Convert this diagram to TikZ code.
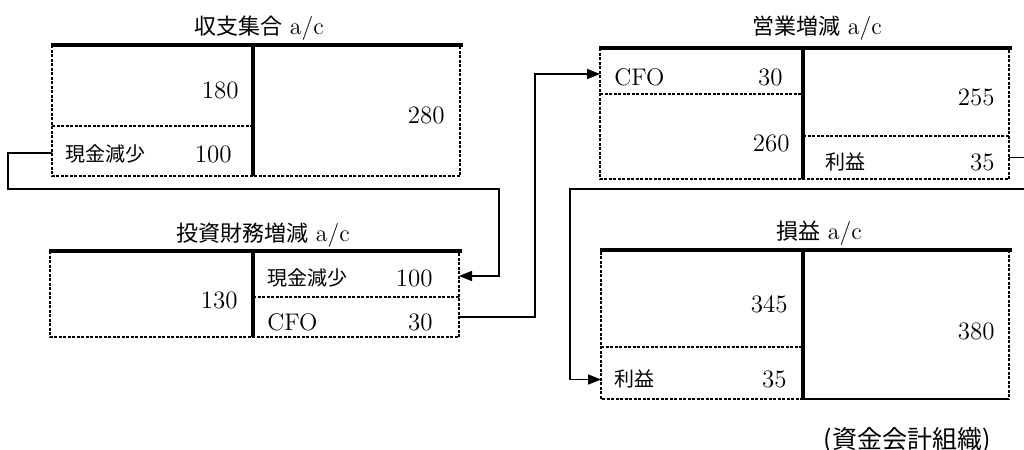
\documentclass[tikz,border=0pt]{standalone}
\usepackage{fontspec}
\newfontfamily\jp{Noto Sans CJK JP}
\usetikzlibrary{arrows.meta,fit}
\begin{document}
\begin{tikzpicture}[x=0.5pt,y=-0.5pt,
  cell/.style={inner sep=0pt,outer sep=0pt,draw=none},
  brd/.style={line width=0.55pt,dash pattern=on 1.5pt off 0.75pt},
  thk/.style={line width=2pt},
  divl/.style={line width=2pt},
  conn/.style={line width=0.8pt},
  arr/.style={conn,-{Triangle[length=6.5pt,width=5pt]}},
  ttl/.style={font=\fontsize{12}{14}\selectfont,inner sep=0pt},
  num/.style={font=\fontsize{12.5}{14}\selectfont,anchor=east,inner sep=0pt},
  lab/.style={font=\jp\fontsize{10}{12}\selectfont,anchor=west,inner sep=0pt},
  latlab/.style={font=\fontsize{12}{14}\selectfont,anchor=west,inner sep=0pt}]
\useasboundingbox (0,0) rectangle (1024,450);

% ---------- 収支集合 a/c ----------
\node[cell,fit={(52,45)(253,126)}] (A1) {};
\node[cell,fit={(52,126)(253,176)}] (A2) {};
\node[cell,fit={(253,45)(460,176)}] (A3) {};
\draw[brd] (52,45) rectangle (460,176);
\draw[brd] (52,126) -- (253,126);
\draw[thk] (51,45) -- (463,45);
\draw[divl] (253,45) -- (253,176);
\node[ttl] (At) at (259,28) {{\jp\fontsize{11}{13}\selectfont 収支集合} a/c};
\node[num] (An1) at (239,90) {180};
\node[num] (An2) at (445,115) {280};
\node[lab] (Al) at (65,154) {現金減少};
\node[num] (An3) at (232,154) {100};

% ---------- 投資財務増減 a/c ----------
\node[cell,fit={(50,251)(253,337)}] (B1) {};
\node[cell,fit={(253,251)(459,297)}] (B2) {};
\node[cell,fit={(253,297)(459,337)}] (B3) {};
\draw[brd] (50,251) rectangle (459,337);
\draw[brd] (253,297) -- (459,297);
\draw[thk] (49,251) -- (462,251);
\draw[divl] (253,251) -- (253,337);
\node[ttl] (Bt) at (263,235) {{\jp\fontsize{11}{13}\selectfont 投資財務増減} a/c};
\node[num] (Bn1) at (238,300) {130};
\node[lab] (Bl1) at (267,278) {現金減少};
\node[num] (Bn2) at (433,278) {100};
\node[latlab] (Bl2) at (267,322) {CFO};
\node[num] (Bn3) at (433,322) {30};

% ---------- 営業増減 a/c ----------
\node[cell,fit={(600,48)(803,94)}] (C1) {};
\node[cell,fit={(600,94)(803,179)}] (C2) {};
\node[cell,fit={(803,48)(1009,136)}] (C3) {};
\node[cell,fit={(803,136)(1009,179)}] (C4) {};
\draw[brd] (600,48) rectangle (1009,179);
\draw[brd] (600,94) -- (803,94);
\draw[brd] (803,136) -- (1009,136);
\draw[thk] (599,48) -- (1012,48);
\draw[divl] (803,48) -- (803,179);
\node[ttl] (Ct) at (817,28) {{\jp\fontsize{11}{13}\selectfont 営業増減} a/c};
\node[latlab] (Cl1) at (614,77) {CFO};
\node[num] (Cn1) at (783,77) {30};
\node[num] (Cn2) at (790,143) {260};
\node[num] (Cn3) at (995,97) {255};
\node[lab] (Cl2) at (825,162) {利益};
\node[num] (Cn4) at (995,162) {35};

% ---------- 損益 a/c ----------
\node[cell,fit={(601,250)(803,347)}] (D1) {};
\node[cell,fit={(601,347)(803,399)}] (D2) {};
\node[cell,fit={(803,250)(1009,399)}] (D3) {};
\draw[brd] (803,399) -- (601,399) -- (601,250);
\draw[brd] (1009,250) -- (1009,399);
\draw[line width=0.7pt] (803,399) -- (1009,399);
\draw[brd] (601,347) -- (803,347);
\draw[thk] (600,250) -- (1012,250);
\draw[divl] (803,250) -- (803,399);
\node[ttl] (Dt) at (819,233) {{\jp\fontsize{11}{13}\selectfont 損益} a/c};
\node[num] (Dn1) at (788,304) {345};
\node[num] (Dn2) at (995,331) {380};
\node[lab] (Dl) at (614,379) {利益};
\node[num] (Dn3) at (787,379) {35};

% ---------- footer ----------
\node[font=\jp\fontsize{12.5}{14}\selectfont,inner sep=0pt] (F) at (907,440) {(資金会計組織)};

% ---------- connectors ----------
\coordinate (k1) at (8,189);
\coordinate (k2) at (499,189);
\draw[arr] ([yshift=-1pt]A2.west) -| (k1) -- (k2) |- ([yshift=-1pt]B2.east);

\coordinate (k3) at (535,0);
\draw[arr] (B3.east) -- (B3.east -| k3) |- ([yshift=-1.5pt]C1.west);

\coordinate (k4) at (1026,189);
\coordinate (k5) at (570,189);
\draw[arr] (C4.east) -| (k4) -- (k5) |- ([yshift=-3.25pt]D2.west);
\end{tikzpicture}
\end{document}
